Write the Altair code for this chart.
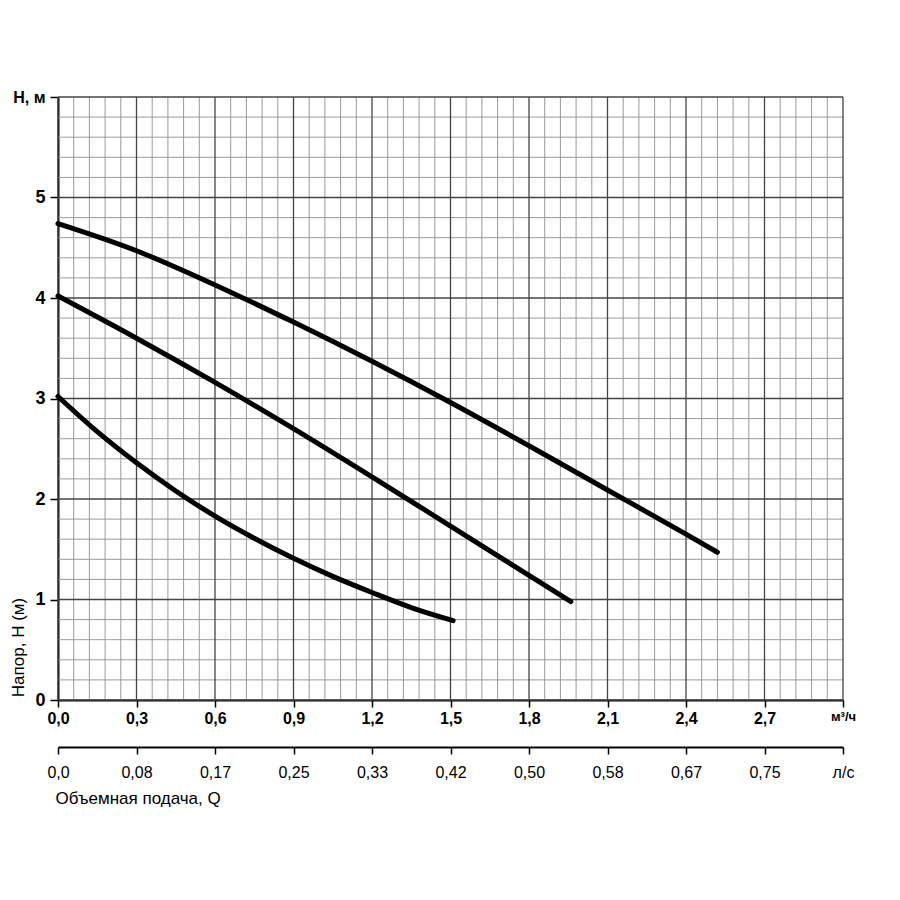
import json
import altair as alt
import pandas as pd

# ---- data ----
q_ticks = [0.0, 0.3, 0.6, 0.9, 1.2, 1.5, 1.8, 2.1, 2.4, 2.7, 3.0]
m3h_labels = ["0,0", "0,3", "0,6", "0,9", "1,2", "1,5", "1,8", "2,1", "2,4", "2,7", "м³/ч"]
ls_labels = ["0,0", "0,08", "0,17", "0,25", "0,33", "0,42", "0,50", "0,58", "0,67", "0,75", "л/с"]
h_ticks = [0, 1, 2, 3, 4, 5, 6]
h_labels = ["0", "1", "2", "3", "4", "5", "H, м"]

curve1_q = [0.0, 0.3, 0.6, 0.9, 1.2, 1.5, 1.8, 2.1, 2.4, 2.52]
curve1_h = [4.74, 4.47, 4.13, 3.76, 3.37, 2.96, 2.53, 2.09, 1.65, 1.47]
curve2_q = [0.0, 0.3, 0.6, 0.9, 1.2, 1.5, 1.8, 1.96]
curve2_h = [4.02, 3.60, 3.16, 2.70, 2.22, 1.73, 1.24, 0.98]
curve3_q = [0.0, 0.15, 0.3, 0.45, 0.6, 0.75, 0.9, 1.05, 1.2, 1.35, 1.51]
curve3_h = [3.02, 2.67, 2.36, 2.08, 1.83, 1.61, 1.41, 1.23, 1.07, 0.92, 0.79]

x_minor = [round(i * 0.06, 2) for i in range(51) if i % 5 != 0]
y_minor = [round(i * 0.2, 1) for i in range(31) if i % 5 != 0]

FONT = "Liberation Sans, Arial, sans-serif"
W, H = 785, 603

xscale = alt.Scale(domain=[0, 3], nice=False, zero=False)
yscale = alt.Scale(domain=[0, 6], nice=False, zero=False)

curves = pd.concat([
    pd.DataFrame({"q": curve1_q, "h": curve1_h, "c": "1"}),
    pd.DataFrame({"q": curve2_q, "h": curve2_h, "c": "2"}),
    pd.DataFrame({"q": curve3_q, "h": curve3_h, "c": "3"}),
])

vminor = alt.Chart(pd.DataFrame({"q": x_minor})).mark_rule(color="#9a9a9a", strokeWidth=1).encode(
    x=alt.X("q:Q", scale=xscale, axis=None))
hminor = alt.Chart(pd.DataFrame({"h": y_minor})).mark_rule(color="#9a9a9a", strokeWidth=1).encode(
    y=alt.Y("h:Q", scale=yscale, axis=None))
vmajor = alt.Chart(pd.DataFrame({"q": q_ticks})).mark_rule(color="#444444", strokeWidth=1.3).encode(
    x=alt.X("q:Q", scale=xscale, axis=None))
hmajor = alt.Chart(pd.DataFrame({"h": h_ticks})).mark_rule(color="#444444", strokeWidth=1.3).encode(
    y=alt.Y("h:Q", scale=yscale, axis=None))

x_axis = alt.Axis(
    values=q_ticks,
    labelExpr=f"{json.dumps(m3h_labels, ensure_ascii=False)}[round(datum.value/0.3)]",
    labelFont=FONT, labelFontWeight="bold",
    labelFontSize={"condition": {"test": "datum.value > 2.9", "value": 13}, "value": 16},
    labelColor="black", labelPadding=3, labelFlush=False, labelOverlap=False,
    tickSize=7, tickColor="black", tickWidth=1.5,
    domainColor="black", domainWidth=2, grid=False, title=None,
)
y_axis = alt.Axis(
    values=h_ticks,
    labelExpr=f"{json.dumps(h_labels, ensure_ascii=False)}[round(datum.value)]",
    labelFont="Liberation Sans Narrow, " + FONT, labelFontWeight="bold",
    labelFontSize={"condition": {"test": "datum.value > 5.5", "value": 16}, "value": 18},
    labelColor="black", labelPadding=5, labelFlush=False, labelOverlap=False,
    tickSize=8, tickColor="black", tickWidth=1.5,
    domainColor="black", domainWidth=2, grid=False,
    title="Напор, H (м)", titleFont=FONT, titleFontSize=17, titleFontWeight="normal",
    titleColor="black", titleAngle=270, titleX=-40, titleY=550,
    titleAlign="center", titleBaseline="middle",
)

lines = alt.Chart(curves).mark_line(
    color="black", strokeWidth=5, interpolate="monotone", strokeCap="round"
).encode(
    x=alt.X("q:Q", scale=xscale, axis=x_axis),
    y=alt.Y("h:Q", scale=yscale, axis=y_axis),
    detail="c:N",
)

x2_axis = alt.Axis(
    orient="bottom", offset=47,
    values=q_ticks,
    labelExpr=f"{json.dumps(ls_labels, ensure_ascii=False)}[round(datum.value/0.3)]",
    labelFont=FONT, labelFontWeight="normal", labelFontSize=16,
    labelColor="black", labelPadding=10, labelFlush=False, labelOverlap=False,
    tickSize=7, tickColor="black", tickWidth=1.5,
    domainColor="black", domainWidth=2, grid=False,
    title="Объемная подача, Q", titleFont=FONT, titleFontSize=17, titleFontWeight="normal",
    titleColor="black", titleX=-3, titleY=51, titleAlign="left", titleBaseline="middle",
)
second = alt.Chart(pd.DataFrame({"q": q_ticks})).mark_point(opacity=0).encode(
    x=alt.X("q:Q", scale=xscale, axis=x2_axis),
    y=alt.value(0),
)

chart = alt.layer(vminor, hminor, vmajor, hmajor, lines, second).resolve_axis(
    x="independent", y="independent"
).properties(
    width=W, height=H,
    autosize=alt.AutoSizeParams(type="none"),
    padding={"left": 58, "top": 97, "right": 57, "bottom": 200},
    background="white",
).configure_view(stroke="transparent")

chart.save("out.html", embed_options={"renderer": "svg", "actions": False})
